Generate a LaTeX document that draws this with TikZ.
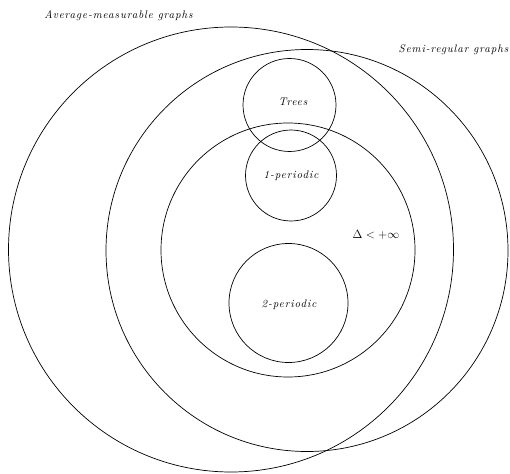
\documentclass[tikz,border=0pt]{standalone}
\usepackage{fontspec}
\newfontface\lblfont{lmroman10-italic.otf}[LetterSpace=8]
\begin{document}
\begin{tikzpicture}[x=1pt,y=-1pt,
  ring/.style={draw=black,line width=0.7pt,circle,inner sep=0pt,fill=none},
  lbl/.style={font=\fontsize{11}{13}\lblfont,inner sep=0pt},
  mathlbl/.style={font=\fontsize{13}{15}\selectfont,inner sep=0pt}]
\useasboundingbox (0,0) rectangle (510,473);
% circles
\node[ring,minimum size=445pt] (avg) at (231,249.5) {};
\node[ring,minimum size=402pt] (semi) at (307,250.5) {};
\node[ring,minimum size=254pt] (bounded) at (288,250) {};
\node[ring,minimum size=93pt] (trees) at (289.5,105) {};
\node[ring,minimum size=91pt] (one) at (291,175.5) {};
\node[ring,minimum size=119pt] (two) at (288.5,303) {};
% labels
\node[lbl] (lavg) at (118.5,16) {Average-measurable graphs};
\node[lbl] (lsemi) at (453.5,50) {Semi-regular graphs};
\node[lbl] (ltrees) at (293,101.5) {Trees};
\node[lbl] (lone) at (291,175.5) {1-periodic};
\node[lbl] (ltwo) at (289,304.5) {2-periodic};
\node[mathlbl] (lbound) at (376,235) {$\Delta<+\infty$};
\end{tikzpicture}
\end{document}
